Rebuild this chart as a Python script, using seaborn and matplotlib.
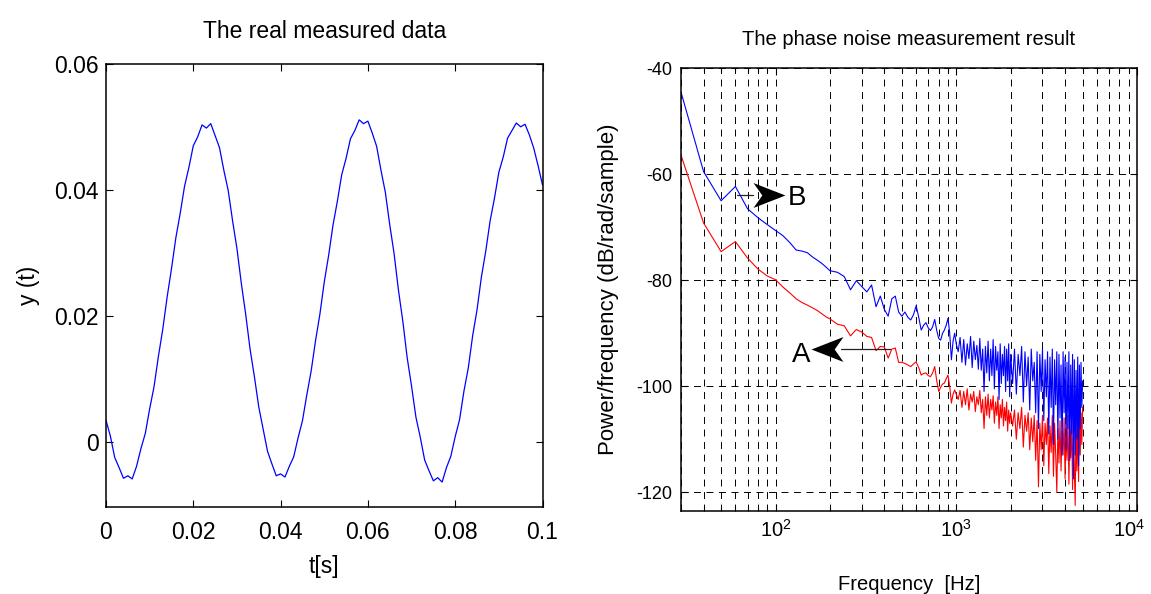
import matplotlib
matplotlib.use("Agg")
import matplotlib.pyplot as plt
import matplotlib.transforms as mtransforms
import numpy as np
import pandas as pd
import seaborn as sns
from matplotlib.path import Path
from matplotlib.ticker import FixedLocator, FixedFormatter, LogLocator, NullFormatter, LogFormatterMathtext

# ---------------- data: left panel (measured signal) ----------------
t_s = [0.000, 0.001, 0.002, 0.003, 0.004, 0.005, 0.006, 0.007, 0.008, 0.009,
       0.010, 0.011, 0.012, 0.013, 0.014, 0.015, 0.016, 0.017, 0.018, 0.019,
       0.020, 0.021, 0.022, 0.023, 0.024, 0.025, 0.026, 0.027, 0.028, 0.029,
       0.030, 0.031, 0.032, 0.033, 0.034, 0.035, 0.036, 0.037, 0.038, 0.039,
       0.040, 0.041, 0.042, 0.043, 0.044, 0.045, 0.046, 0.047, 0.048, 0.049,
       0.050, 0.051, 0.052, 0.053, 0.054, 0.055, 0.056, 0.057, 0.058, 0.059,
       0.060, 0.061, 0.062, 0.063, 0.064, 0.065, 0.066, 0.067, 0.068, 0.069,
       0.070, 0.071, 0.072, 0.073, 0.074, 0.075, 0.076, 0.077, 0.078, 0.079,
       0.080, 0.081, 0.082, 0.083, 0.084, 0.085, 0.086, 0.087, 0.088, 0.089,
       0.090, 0.091, 0.092, 0.093, 0.094, 0.095, 0.096, 0.097, 0.098, 0.099,
       0.100]
y_t = [0.0035, 0.0010, -0.0024, -0.0040, -0.0057, -0.0053, -0.0058, -0.0038, -0.0010, 0.0014,
       0.0053, 0.0088, 0.0136, 0.0179, 0.0230, 0.0275, 0.0324, 0.0363, 0.0406, 0.0436,
       0.0470, 0.0484, 0.0503, 0.0498, 0.0505, 0.0486, 0.0467, 0.0431, 0.0399, 0.0351,
       0.0307, 0.0252, 0.0203, 0.0148, 0.0104, 0.0056, 0.0021, -0.0014, -0.0034, -0.0053,
       -0.0050, -0.0055, -0.0038, -0.0023, 0.0007, 0.0034, 0.0075, 0.0113, 0.0161, 0.0203,
       0.0254, 0.0296, 0.0344, 0.0382, 0.0424, 0.0450, 0.0481, 0.0494, 0.0511, 0.0505,
       0.0509, 0.0490, 0.0469, 0.0431, 0.0396, 0.0345, 0.0299, 0.0241, 0.0192, 0.0134,
       0.0089, 0.0040, 0.0008, -0.0028, -0.0045, -0.0061, -0.0056, -0.0063, -0.0040, -0.0022,
       0.0009, 0.0036, 0.0081, 0.0118, 0.0169, 0.0210, 0.0262, 0.0303, 0.0351, 0.0387,
       0.0428, 0.0452, 0.0482, 0.0494, 0.0506, 0.0500, 0.0504, 0.0487, 0.0466, 0.0438,
       0.0408]
t_ticks = [0, 0.02, 0.04, 0.06, 0.08, 0.1]
t_tick_labels = ["0", "0.02", "0.04", "0.06", "0.08", "0.1"]
y_ticks = [0, 0.02, 0.04, 0.06]
y_tick_labels = ["0", "0.02", "0.04", "0.06"]

# ---------------- data: right panel (phase noise PSD) ----------------
freq_hz = [30, 40, 50, 60, 70, 80, 90, 100, 110, 120, 130, 140, 150, 160, 170, 180, 190, 200,
           220, 240, 260, 280, 300, 320, 340, 360, 380, 400, 420, 440, 460, 480, 500, 520, 540, 560,
           580, 600, 620, 640, 660, 680, 700, 720, 740, 760, 780, 800, 820, 840, 860, 880, 900, 920,
           940, 960, 980, 1000,
           1025, 1050, 1075, 1100, 1125, 1150, 1175, 1200, 1225, 1250, 1275, 1300, 1325, 1350,
           1375, 1400, 1425, 1450, 1475, 1500, 1525, 1550, 1575, 1600, 1625, 1650, 1675, 1700,
           1725, 1750, 1775, 1800, 1825, 1850, 1875, 1900, 1925, 1950, 1975, 2000,
           2050, 2100, 2150, 2200, 2250, 2300, 2350, 2400, 2450, 2500, 2550, 2600, 2650, 2700,
           2750, 2800, 2850, 2900, 2950, 3000, 3050, 3100, 3150, 3200, 3250, 3300, 3350, 3400,
           3450, 3500, 3550, 3600, 3650, 3700, 3750, 3800, 3850, 3900, 3950, 4000, 4050, 4100,
           4150, 4200, 4250, 4300, 4350, 4400, 4450, 4500, 4550, 4600, 4650, 4700, 4750, 4800,
           4850, 4900, 4950, 5000]
psd_B = [-44.5, -59.5, -65.0, -62.3, -66.5, -68.2, -69.5, -70.6, -71.6, -72.9, -74.3, -74.5, -74.8, -75.6, -76.2, -76.8, -77.5, -78.2,
         -78.5, -79.3, -81.8, -80.1, -81.2, -82.2, -80.9, -85.0, -83.0, -85.5, -86.8, -83.5, -83.0, -86.0, -86.8, -86.0, -87.0, -87.5,
         -86.5, -84.8, -87.0, -89.4, -88.5, -88.0, -89.0, -89.5, -88.8, -87.4, -89.5, -91.0, -91.3, -90.0, -89.4, -88.5, -87.2, -90.0,
         -95.0, -91.5, -90.0, -92.0,
         -93.5, -90.8, -95.5, -91.2, -96.0, -92.0, -94.8, -90.6, -96.5, -91.5, -95.0, -92.3, -96.8, -91.0,
         -97.0, -93.0, -101.0, -92.5, -97.5, -91.5, -99.0, -93.0, -98.0, -91.2, -100.5, -92.5, -97.0, -93.5,
         -102.5, -92.0, -99.5, -94.0, -98.0, -92.5, -101.0, -93.0, -99.0, -92.0, -102.0, -94.0,
         -99.5, -93.0, -101.5, -94.0, -98.0, -92.5, -103.0, -93.5, -100.0, -94.5, -104.5, -93.0, -99.0, -95.5,
         -105.0, -93.5, -108.0, -94.0, -101.0, -93.0, -106.5, -95.0, -102.0, -93.5, -109.0, -94.5, -104.0, -93.0,
         -111.0, -95.0, -103.5, -93.5, -110.0, -94.0, -106.0, -96.0, -113.0, -93.5, -105.0, -94.5, -112.0, -95.5,
         -108.0, -93.5, -114.0, -96.0, -109.0, -94.0, -117.5, -95.0, -113.0, -97.0, -110.0, -94.5, -115.0, -96.0,
         -108.0, -95.5, -104.0, -99.0]
psd_A = [-56.4, -69.2, -74.6, -72.7, -75.8, -77.9, -79.2, -79.9, -81.3, -82.4, -83.5, -84.2, -84.7, -85.2, -85.7, -86.3, -86.9, -87.3,
         -88.3, -88.6, -90.5, -89.3, -89.8, -90.6, -90.8, -93.3, -92.5, -92.6, -94.7, -93.0, -92.8, -95.5, -95.5, -95.7, -96.0, -96.3,
         -95.8, -95.4, -96.5, -97.9, -97.6, -97.5, -98.0, -98.2, -97.5, -96.3, -99.0, -101.0, -100.2, -99.6, -99.4, -98.6, -97.9, -100.0,
         -103.2, -101.5, -100.7, -101.5,
         -102.5, -100.8, -104.0, -101.0, -103.5, -100.5, -104.5, -101.5, -103.0, -101.0, -104.8, -102.0, -103.5, -100.8,
         -105.0, -102.5, -108.0, -102.0, -105.5, -101.5, -106.0, -102.5, -104.5, -101.8, -107.0, -103.0, -105.5, -102.0,
         -108.0, -103.5, -106.0, -102.5, -107.5, -104.0, -106.5, -103.0, -108.5, -104.5, -107.0, -105.0,
         -107.5, -104.5, -110.0, -105.0, -108.0, -104.0, -111.5, -105.5, -108.5, -105.0, -112.0, -106.0, -110.5, -105.5,
         -114.0, -106.5, -119.0, -107.0, -112.0, -105.5, -115.0, -107.0, -111.0, -106.0, -116.5, -107.5, -112.5, -105.5,
         -117.0, -107.0, -113.0, -120.0, -108.0, -114.5, -106.5, -116.0, -108.5, -113.0, -106.0, -117.5, -108.0, -114.0,
         -105.5, -118.5, -107.5, -113.5, -106.0, -119.5, -108.0, -115.0, -122.5, -107.0, -116.0, -105.5, -118.0, -106.5,
         -113.0, -105.0, -111.0, -104.0]
db_ticks = [-120, -100, -80, -60, -40]

# annotation anchors (frequency in Hz, level in dB)
ann_B = dict(shaft=(61, 75), head=92, y=-64.0, text_x=117, text_y=-65.8)
ann_A = dict(shaft=(432, 230), head=192, y=-93.0, text_x=157, text_y=-95.4)

# ---------------- style ----------------
sns.set_theme(style="white")
plt.rcParams["font.family"] = ["Liberation Sans", "DejaVu Sans"]
plt.rcParams["lines.scale_dashes"] = False
plt.rcParams["axes.linewidth"] = 1.1
plt.rcParams["axes.edgecolor"] = "black"
plt.rcParams["text.color"] = "black"
plt.rcParams["axes.labelcolor"] = "black"
plt.rcParams["axes.titlecolor"] = "black"
plt.rcParams["xtick.color"] = "black"
plt.rcParams["ytick.color"] = "black"

fig = plt.figure(figsize=(11.51, 5.94), dpi=100)
W, H = 1151, 594
ax1 = fig.add_axes([106 / W, 1 - 506.7 / H, (542.5 - 106) / W, (506.7 - 63.7) / H])
ax2 = fig.add_axes([681 / W, 1 - 510.7 / H, (1137 - 681) / W, (510.7 - 68.3) / H])

# ---------------- left panel ----------------
df1 = pd.DataFrame({"t": t_s, "y": y_t})
sns.lineplot(data=df1, x="t", y="y", ax=ax1, color="#0000ff", lw=0.9, estimator=None)
ax1.set_xlim(0, 0.1)
ax1.set_ylim(-0.0102, 0.06)
ax1.xaxis.set_major_locator(FixedLocator(t_ticks))
ax1.xaxis.set_major_formatter(FixedFormatter(t_tick_labels))
ax1.yaxis.set_major_locator(FixedLocator(y_ticks))
ax1.yaxis.set_major_formatter(FixedFormatter(y_tick_labels))
ax1.tick_params(axis="both", which="major", direction="in", length=5, width=0.8,
                top=True, right=True, bottom=True, left=True, labelsize=16.5, colors="black")
ax1.tick_params(axis="x", pad=10)
ax1.tick_params(axis="y", pad=5)
ax1.set_title("The real measured data", fontsize=16.5, y=1.058, pad=0, color="black")
ax1.set_xlabel("t[s]", fontsize=16.5, color="black")
ax1.set_ylabel("y (t)", fontsize=16.5, color="black")
ax1.xaxis.set_label_coords(0.5, -0.108)
ax1.yaxis.set_label_coords(-0.152, 0.5)
for s in ax1.spines.values():
    s.set_color("black")

# ---------------- right panel ----------------
df2 = pd.DataFrame({"f": freq_hz + freq_hz,
                    "psd": psd_A + psd_B,
                    "curve": ["A"] * len(freq_hz) + ["B"] * len(freq_hz)})
ax2.set_xscale("log")
sns.lineplot(data=df2, x="f", y="psd", hue="curve", hue_order=["A", "B"],
             palette={"A": "#ff0000", "B": "#0000ff"}, ax=ax2, lw=0.8,
             estimator=None, legend=False)
ax2.set_xlim(30, 10000)
ax2.set_ylim(-123.5, -40)
ax2.xaxis.set_major_locator(LogLocator(base=10, numticks=10))
ax2.xaxis.set_major_formatter(LogFormatterMathtext())
ax2.xaxis.set_minor_locator(LogLocator(base=10, subs=np.arange(2, 10), numticks=30))
ax2.xaxis.set_minor_formatter(NullFormatter())
ax2.yaxis.set_major_locator(FixedLocator(db_ticks))
ax2.yaxis.set_major_formatter(FixedFormatter([str(v) for v in db_ticks]))
ax2.tick_params(axis="both", which="both", direction="in", top=True, right=True,
                bottom=True, left=True, colors="black", width=0.8)
ax2.tick_params(axis="both", which="major", length=5)
ax2.tick_params(axis="x", which="minor", length=3)
ax2.tick_params(axis="x", which="major", labelsize=14.5, pad=6)
ax2.tick_params(axis="y", which="major", labelsize=13, pad=6)
grid_kw = dict(color="black", lw=0.7, linestyle=(0, (5.0, 4.0)))
ax2.grid(True, which="major", axis="both", **grid_kw)
ax2.grid(True, which="minor", axis="x", **grid_kw)
ax2.set_axisbelow(True)
ax2.set_title("The phase noise measurement result", fontsize=14.5, y=1.053, pad=0, color="black")
ax2.set_xlabel("Frequency  [Hz]", fontsize=14.5, color="black")
ax2.set_ylabel("Power/frequency (dB/rad/sample)", fontsize=16, color="black")
ax2.xaxis.set_label_coords(0.5, -0.145)
ax2.yaxis.set_label_coords(-0.135, 0.5)
for s in ax2.spines.values():
    s.set_color("black")

# keep the rightmost decade label inside the canvas
fig.canvas.draw()
shift = mtransforms.ScaledTranslation(-6 / 72, 0, fig.dpi_scale_trans)
for lbl in ax2.get_xticklabels():
    if lbl.get_position()[0] >= 9999:
        lbl.set_transform(lbl.get_transform() + shift)

# arrow heads: concave dart marker
dart_right = Path([(1, 0), (-1, 0.78), (-0.45, 0), (-1, -0.78), (1, 0)],
                  [Path.MOVETO, Path.LINETO, Path.LINETO, Path.LINETO, Path.CLOSEPOLY])
dart_left = Path([(-1, 0), (1, 0.78), (0.45, 0), (1, -0.78), (-1, 0)],
                 [Path.MOVETO, Path.LINETO, Path.LINETO, Path.LINETO, Path.CLOSEPOLY])

for ann, mk, label, ha in [(ann_B, dart_right, "B", "left"), (ann_A, dart_left, "A", "right")]:
    ax2.plot(list(ann["shaft"]), [ann["y"], ann["y"]], color="#222222", lw=0.9, zorder=5)
    ax2.plot([ann["head"]], [ann["y"]], marker=mk, markersize=23, color="black",
             markeredgewidth=0, linestyle="none", zorder=6)
    ax2.text(ann["text_x"], ann["text_y"], label, fontsize=20, ha=ha, va="baseline",
             color="black", zorder=7)

fig.savefig("out.png", dpi=100, facecolor="white")
